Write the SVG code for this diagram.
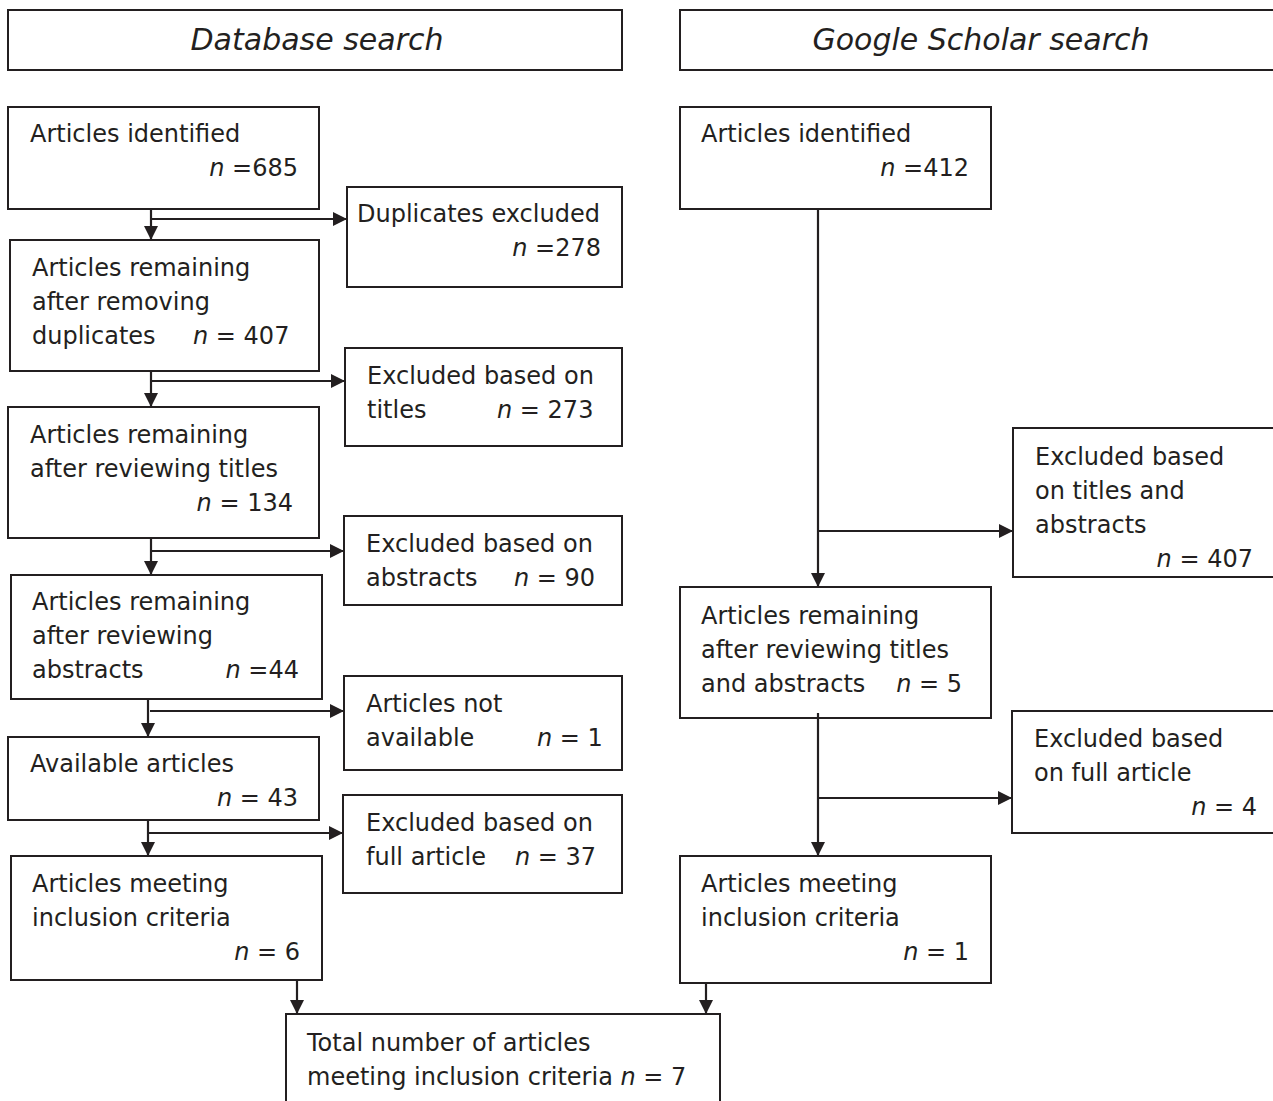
<svg xmlns="http://www.w3.org/2000/svg" width="1273" height="1101" viewBox="0 0 1273 1101">
<style>
rect{fill:#fff;stroke:#231f20;stroke-width:2}
text{font-family:"DejaVu Sans","Verdana",sans-serif;font-size:24px;fill:#231f20}
.h{font-size:30px;font-style:italic;text-anchor:middle}
.e{text-anchor:end}
.i{font-style:italic}
#connectors path{fill:none;stroke:#231f20;stroke-width:2.2}
</style>
<defs>
<marker id="arr" viewBox="0 0 14 14" refX="14" refY="7" markerWidth="14" markerHeight="14" markerUnits="userSpaceOnUse" orient="auto">
<path d="M0,0 L14,7 L0,14 z" fill="#231f20"/>
</marker>
</defs>
<rect x="0" y="0" width="1273" height="1101" style="stroke:none"/>

<g id="hdr-db"><rect x="8" y="10" width="614" height="60"/><text class="h" x="317" y="50">Database search</text></g>
<g id="hdr-gs"><rect x="680" y="10" width="620" height="60"/><text class="h" x="981" y="50">Google Scholar search</text></g>

<g id="db1"><rect x="8" y="107" width="311" height="102"/><text x="30" y="142">Articles identified</text><text class="e" x="298" y="176"><tspan class="i">n</tspan> =685</text></g>
<g id="db-dup"><rect x="347" y="187" width="275" height="100"/><text x="357" y="222">Duplicates excluded</text><text class="e" x="601" y="256"><tspan class="i">n</tspan> =278</text></g>
<g id="db2"><rect x="10" y="240" width="309" height="131"/><text x="32" y="276">Articles remaining</text><text x="32" y="310">after removing</text><text x="32" y="344">duplicates<tspan class="i" x="193">n</tspan> = 407</text></g>
<g id="db-titles"><rect x="345" y="348" width="277" height="98"/><text x="367" y="384">Excluded based on</text><text x="367" y="418">titles<tspan class="i" x="497">n</tspan> = 273</text></g>
<g id="db3"><rect x="8" y="407" width="311" height="131"/><text x="30" y="443">Articles remaining</text><text x="30" y="477">after reviewing titles</text><text class="e" x="293" y="511"><tspan class="i">n</tspan> = 134</text></g>
<g id="db-abs"><rect x="344" y="516" width="278" height="89"/><text x="366" y="552">Excluded based on</text><text x="366" y="586">abstracts<tspan class="i" x="514">n</tspan> = 90</text></g>
<g id="db4"><rect x="11" y="575" width="311" height="124"/><text x="32" y="610">Articles remaining</text><text x="32" y="644">after reviewing</text><text x="32" y="678">abstracts</text><text class="e" x="299" y="678"><tspan class="i">n</tspan> =44</text></g>
<g id="db-na"><rect x="344" y="676" width="278" height="94"/><text x="366" y="712">Articles not</text><text x="366" y="746">available<tspan class="i" x="537">n</tspan> = 1</text></g>
<g id="db5"><rect x="8" y="737" width="311" height="83"/><text x="30" y="772">Available articles</text><text class="e" x="298" y="806"><tspan class="i">n</tspan> = 43</text></g>
<g id="db-full"><rect x="343" y="795" width="279" height="98"/><text x="366" y="831">Excluded based on</text><text x="366" y="865">full article<tspan class="i" x="515">n</tspan> = 37</text></g>
<g id="db6"><rect x="11" y="856" width="311" height="124"/><text x="32" y="892">Articles meeting</text><text x="32" y="926">inclusion criteria</text><text class="e" x="300" y="960"><tspan class="i">n</tspan> = 6</text></g>

<g id="gs1"><rect x="680" y="107" width="311" height="102"/><text x="701" y="142">Articles identified</text><text class="e" x="969" y="176"><tspan class="i">n</tspan> =412</text></g>
<g id="gs-ta"><rect x="1013" y="428" width="280" height="149"/><text x="1035" y="465">Excluded based</text><text x="1035" y="499">on titles and</text><text x="1035" y="533">abstracts</text><text class="e" x="1253" y="567"><tspan class="i">n</tspan> = 407</text></g>
<g id="gs2"><rect x="680" y="587" width="311" height="131"/><text x="701" y="624">Articles remaining</text><text x="701" y="658">after reviewing titles</text><text x="701" y="692">and abstracts</text><text class="e" x="962" y="692"><tspan class="i">n</tspan> = 5</text></g>
<g id="gs-full"><rect x="1012" y="711" width="281" height="122"/><text x="1034" y="747">Excluded based</text><text x="1034" y="781">on full article</text><text class="e" x="1257" y="815"><tspan class="i">n</tspan> = 4</text></g>
<g id="gs3"><rect x="680" y="856" width="311" height="127"/><text x="701" y="892">Articles meeting</text><text x="701" y="926">inclusion criteria</text><text class="e" x="969" y="960"><tspan class="i">n</tspan> = 1</text></g>

<g id="total"><rect x="286" y="1014" width="434" height="100"/><text x="307" y="1051">Total number of articles</text><text x="307" y="1085">meeting inclusion criteria <tspan class="i">n</tspan> = 7</text></g>

<g id="connectors">
<path d="M151,209 V240" marker-end="url(#arr)"/>
<path d="M151,219 H347" marker-end="url(#arr)"/>
<path d="M151,371 V407" marker-end="url(#arr)"/>
<path d="M151,381 H345" marker-end="url(#arr)"/>
<path d="M151,538 V575" marker-end="url(#arr)"/>
<path d="M151,551 H344" marker-end="url(#arr)"/>
<path d="M148,699 V737" marker-end="url(#arr)"/>
<path d="M150,711 H344" marker-end="url(#arr)"/>
<path d="M148,820 V856" marker-end="url(#arr)"/>
<path d="M148,833 H343" marker-end="url(#arr)"/>
<path d="M297,980 V1014" marker-end="url(#arr)"/>
<path d="M818,209 V587" marker-end="url(#arr)"/>
<path d="M818,531 H1013" marker-end="url(#arr)"/>
<path d="M818,713 V856" marker-end="url(#arr)"/>
<path d="M818,798 H1012" marker-end="url(#arr)"/>
<path d="M706,983 V1014" marker-end="url(#arr)"/>
</g>
</svg>
